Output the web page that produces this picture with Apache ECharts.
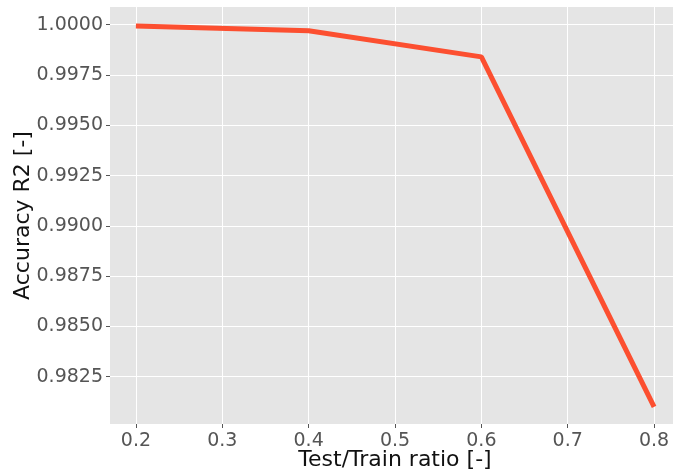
<!DOCTYPE html>
<html>
<head>
<meta charset="utf-8">
<script src="https://cdn.jsdelivr.net/npm/echarts@6/dist/echarts.min.js"></script>
<style>
  html, body { margin: 0; padding: 0; background: #fff; }
  #chart { width: 673px; height: 473px; }
</style>
</head>
<body>
<div id="chart"></div>
<script>
// Test/train split ratio versus R2 accuracy
const ratios = [0.2, 0.4, 0.6, 0.8];
const accuracy = [0.99993, 0.99970, 0.99840, 0.98100];
const xTicks = [0.2, 0.3, 0.4, 0.5, 0.6, 0.7, 0.8];
const yTicks = [0.9825, 0.9850, 0.9875, 0.9900, 0.9925, 0.9950, 0.9975, 1.0000];

const chart = echarts.init(document.getElementById('chart'), null, { renderer: 'canvas' });

const tickFont = { fontFamily: 'DejaVu Sans', fontSize: 19, color: '#555555' };

chart.setOption({
  backgroundColor: '#ffffff',
  animation: false,
  grid: {
    left: 110, right: -7, top: 7, bottom: 49,
    outerBoundsMode: 'none', containLabel: false,
    backgroundColor: '#E5E5E5', show: true, borderWidth: 0
  },
  xAxis: {
    type: 'value',
    min: 0.17,
    max: 0.83,
    name: 'Test/Train ratio [-]',
    nameLocation: 'middle',
    nameGap: 25,
    nameMoveOverlap: false,
    nameTextStyle: { fontFamily: 'DejaVu Sans', fontSize: 22, color: '#111' },
    axisLine: { show: false },
    axisTick: { show: true, length: 4, lineStyle: { color: '#555' }, customValues: xTicks },
    axisLabel: Object.assign({ margin: 8, customValues: xTicks, formatter: v => v.toFixed(1) }, tickFont),
    splitLine: { show: true, lineStyle: { color: '#ffffff', width: 1 } }
  },
  yAxis: {
    type: 'value',
    min: 0.98015,
    max: 1.00088,
    name: 'Accuracy R2 [-]',
    nameLocation: 'middle',
    nameGap: 76,
    nameMoveOverlap: false,
    nameTextStyle: { fontFamily: 'DejaVu Sans', fontSize: 22, color: '#111' },
    axisLine: { show: false },
    axisTick: { show: true, length: 4, lineStyle: { color: '#555' }, customValues: yTicks },
    axisLabel: Object.assign({ margin: 7, customValues: yTicks, formatter: v => v.toFixed(4) }, tickFont),
    splitLine: { show: true, lineStyle: { color: '#ffffff', width: 1 } }
  },
  series: [{
    type: 'line',
    data: ratios.map((r, i) => [r, accuracy[i]]),
    showSymbol: false,
    lineStyle: { color: '#FC4F30', width: 5 },
    clip: false
  }]
});
</script>
</body>
</html>
